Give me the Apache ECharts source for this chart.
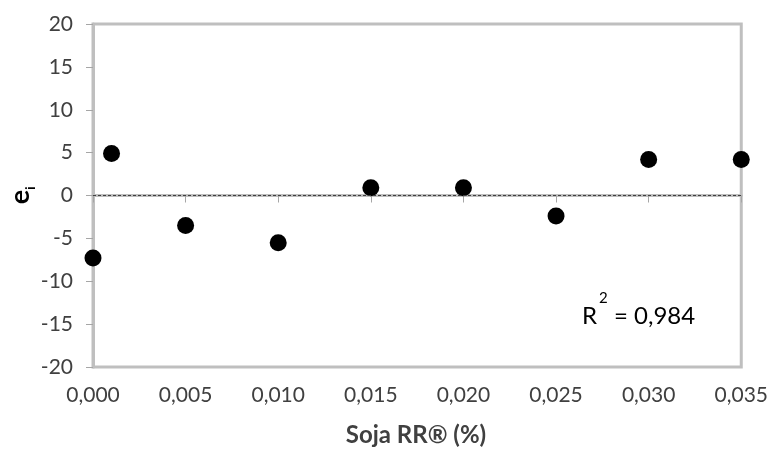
<!DOCTYPE html>
<html>
<head>
<meta charset="utf-8">
<script src="https://cdn.jsdelivr.net/npm/echarts@6/dist/echarts.min.js"></script>
<style>
html,body{margin:0;padding:0;background:#fff;}
#chart{width:771px;height:450px;}
</style>
</head>
<body>
<div id="chart"></div>
<script>
const xValues = [0.000, 0.001, 0.005, 0.010, 0.015, 0.020, 0.025, 0.030, 0.035];
const residuals = [-7.3, 4.9, -3.5, -5.5, 0.9, 0.9, -2.4, 4.2, 4.2];
const xTitle = 'Soja RR® (%)';
const rSquaredText = '0,984';

const FONT = 'Lato, "Open Sans", sans-serif';
const chart = echarts.init(document.getElementById('chart'));
const points = xValues.map((x, i) => [x, residuals[i]]);

chart.setOption({
  animation: false,
  grid: {left: 93, right: 29, top: 24, bottom: 83, show: true, borderColor: '#BFBFBF', borderWidth: 3, backgroundColor: 'transparent'},
  xAxis: {
    type: 'value', min: 0, max: 0.035, interval: 0.005,
    axisLine: {show: true, lineStyle: {color: '#BFBFBF', width: 3}},
    axisTick: {show: true, length: 7, lineStyle: {color: '#A6A6A6', width: 1}},
    splitLine: {show: false},
    axisLabel: {color: '#404040', fontSize: 21, fontFamily: FONT, margin: 18,
      formatter: v => v.toFixed(3).replace('.', ',')}
  },
  yAxis: {
    type: 'value', min: -20, max: 20, interval: 5,
    axisLine: {show: true, lineStyle: {color: '#BFBFBF', width: 3}},
    axisTick: {show: true, length: 7, lineStyle: {color: '#A6A6A6', width: 1}},
    splitLine: {show: false},
    axisLabel: {color: '#404040', fontSize: 21, fontFamily: FONT, margin: 20}
  },
  series: [{
    type: 'scatter',
    data: points,
    symbol: 'circle',
    symbolSize: 17,
    itemStyle: {color: '#000', opacity: 1},
    markLine: {
      silent: true, symbol: 'none', label: {show: false},
      lineStyle: {color: '#404040', type: [3, 2], width: 1},
      data: [{yAxis: 0}]
    }
  }],
  graphic: [
    {type: 'text', x: 416, y: 435,
      style: {text: xTitle, font: 'bold 24px ' + FONT, fill: '#404040', align: 'center', verticalAlign: 'middle'}},
    {type: 'group', x: 20, y: 197, rotation: Math.PI / 2, children: [
      {type: 'text', x: 0, y: 0, style: {text: 'e', font: 'bold 27px ' + FONT, fill: '#000', align: 'center', verticalAlign: 'middle'}},
      {type: 'text', x: 9, y: 11, style: {text: 'i', font: 'bold 13px ' + FONT, fill: '#000', align: 'center', verticalAlign: 'middle'}}
    ]},
    {type: 'text', x: 582, y: 316, style: {text: 'R', font: '24px ' + FONT, fill: '#000', verticalAlign: 'middle'}},
    {type: 'text', x: 599, y: 298, style: {text: '2', font: '15px ' + FONT, fill: '#000', verticalAlign: 'middle'}},
    {type: 'text', x: 614, y: 316, style: {text: '= ' + rSquaredText, font: '24px ' + FONT, fill: '#000', verticalAlign: 'middle'}}
  ]
});
</script>
</body>
</html>
